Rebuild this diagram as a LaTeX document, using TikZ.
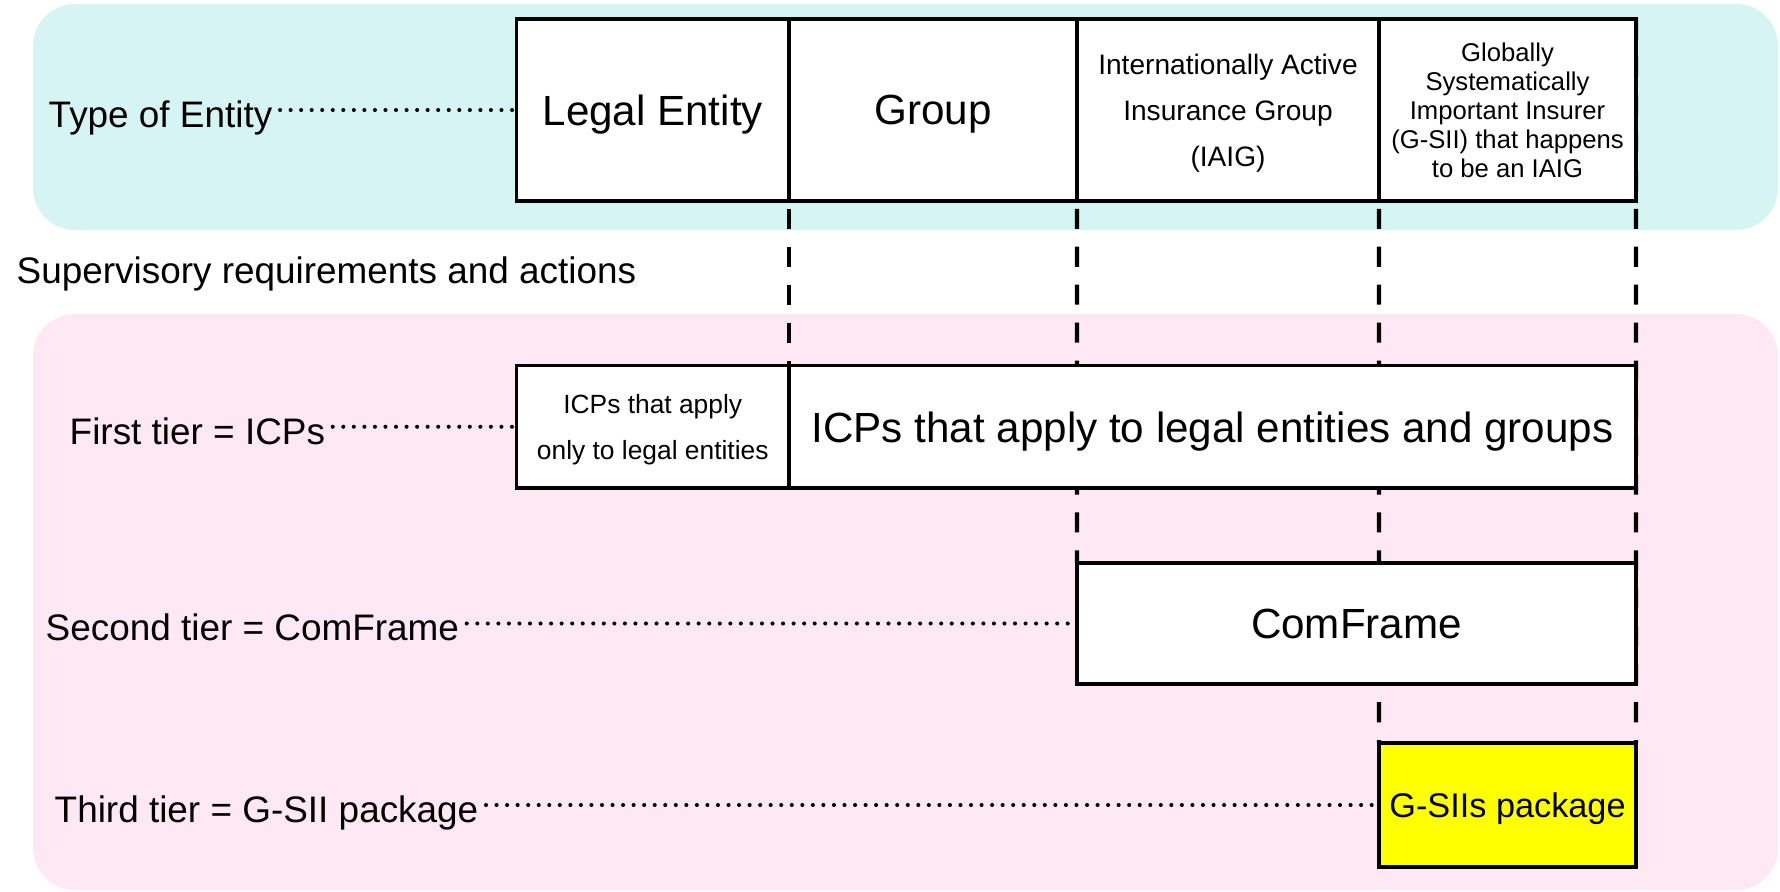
\documentclass[tikz,border=0pt]{standalone}
\usepackage{fontspec}
\setmainfont{Liberation Sans}
\usetikzlibrary{positioning,backgrounds}
\definecolor{entityband}{HTML}{D6F4F3}
\definecolor{tierband}{HTML}{FDE8F3}
\definecolor{pkgfill}{RGB}{255,255,0}

\begin{document}
\begin{tikzpicture}[box/.style={draw,fill=white,line width=1.1pt,outer sep=0pt,inner sep=1pt,align=center,text depth=0pt,minimum width=#1},
    big/.style={font=\fontsize{12}{14}\selectfont},
    lbl/.style={font=\fontsize{10.5}{12.6}\selectfont,inner sep=2pt,anchor=base west},
    dots/.style={line width=1.15pt,line cap=round,dash pattern=on 0pt off 3pt},
    tierline/.style={line width=1.2pt,dash pattern=on 5.7pt off 5.1pt}]
    \useasboundingbox (0,0) rectangle (17.8,-8.92);
    \begin{scope}[on background layer]
    \fill[entityband,rounded corners=0.42cm] (0.33,-0.04) rectangle (17.78,-2.30);
    \fill[tierband,rounded corners=0.42cm] (0.33,-3.14) rectangle (17.78,-8.90);
    \end{scope}

    \node[box=2.725cm,minimum height=1.82cm,big,anchor=north west] (le) at (5.165,-0.19) {Legal Entity};
    \node[box=2.88cm,minimum height=1.82cm,big] (grp) [right=0pt of le] {Group};
    \node[box=3.02cm,minimum height=1.82cm,font=\fontsize{8}{13.1}\selectfont] (iaig) [right=0pt of grp] {Internationally Active\\Insurance Group\\(IAIG)};
    \node[box=2.57cm,minimum height=1.82cm,font=\fontsize{7.3}{8.25}\selectfont] (gsii) [right=0pt of iaig] {Globally\\Systematically\\Important Insurer\\(G-SII) that happens\\to be an IAIG};

    \node[box=2.725cm,minimum height=1.225cm,font=\fontsize{7.5}{13.2}\selectfont,anchor=north west] (icpl) at (5.165,-3.655) {ICPs that apply\\only to legal entities};
    \node[box=8.47cm,minimum height=1.225cm,big] (icpg) [right=0pt of icpl] {ICPs that apply to legal entities and groups};
    \node[box=5.59cm,minimum height=1.21cm,big,anchor=north west] (cf) at (10.77,-5.63) {ComFrame};
    \node[box=2.57cm,minimum height=1.24cm,fill=pkgfill,font=\fontsize{9.75}{11.7}\selectfont,anchor=north west] (pkg) at (13.79,-7.43) {G-SIIs package};

    \node[lbl] (toe) at (0.41,-1.27) {Type of Entity};
    \node[lbl] (sra) at (0.09,-2.83) {Supervisory requirements and actions};
    \node[lbl] (t1) at (0.62,-4.44) {First tier = ICPs};
    \node[lbl] (t2) at (0.38,-6.40) {Second tier = ComFrame};
    \node[lbl] (t3) at (0.47,-8.22) {Third tier = G-SII package};

    \draw[dots] (toe.east |- le.west) -- (le.west);
    \draw[dots] (t1.east |- icpl.west) -- (icpl.west);
    \draw[dots] (t2.east |- cf.west) -- (cf.west);
    \draw[dots] (t3.east |- pkg.west) -- (pkg.west);

    \begin{scope}[on background layer]
    \draw[tierline] (grp.north west) -- (icpg.north west);
    \draw[tierline] (iaig.north west) -- (cf.north west);
    \draw[tierline] (gsii.north west) -- (pkg.north west);
    \draw[tierline] (gsii.north east) -- (pkg.north east);
    \end{scope}
\end{tikzpicture}
\end{document}
